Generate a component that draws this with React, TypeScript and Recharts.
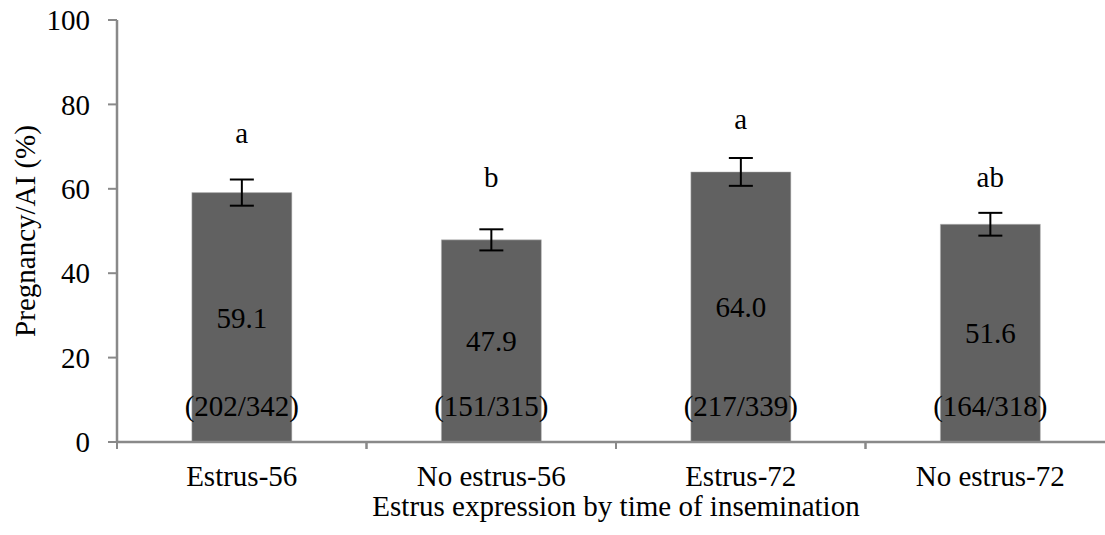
import { Bar, ComposedChart, ErrorBar, LabelList, Scatter, XAxis, YAxis } from "recharts";

const categories = ["Estrus-56", "No estrus-56", "Estrus-72", "No estrus-72"];
const pregnancyRate = [59.1, 47.9, 64.0, 51.6];
const stdError = [3.1, 2.5, 3.3, 2.7];
const counts = ["(202/342)", "(151/315)", "(217/339)", "(164/318)"];
const letters = ["a", "b", "a", "ab"];
const letterAt = [73.3, 62.9, 76.6, 62.9];
const yTicks = [0, 20, 40, 60, 80, 100];

const FONT = "Liberation Serif";
const FS = 29;
const AXIS = "#898989";
const textStyle = { fontFamily: FONT, fontSize: FS, fill: "#000" };

const data = categories.map((name, i) => ({
  name,
  rate: pregnancyRate[i],
  err: stdError[i],
  count: counts[i],
  letter: letters[i],
  letterAt: letterAt[i],
}));

// Excel style: ticks sit on category boundaries, not under the bars
const XTick = (props: any) => {
  const { x, y, payload } = props;
  const half = payload?.offset ?? 124.75;
  return (
    <g>
      <line x1={x - half} x2={x - half} y1={y - 8} y2={y - 1} stroke={AXIS} strokeWidth={2} />
      <line x1={x + half} x2={x + half} y1={y - 8} y2={y - 1} stroke={AXIS} strokeWidth={2} />
      <text x={x} y={y + 36} textAnchor="middle" style={textStyle}>
        {payload.value}
      </text>
    </g>
  );
};

const CountLabel = (props: any) => {
  const { x, y, width, height, value } = props;
  return (
    <text x={x + width / 2} y={y + height - 36} textAnchor="middle" dominantBaseline="central" style={textStyle}>
      {value}
    </text>
  );
};

const LetterShape = (props: any) => {
  const { cx, cy, payload } = props;
  return (
    <text x={cx} y={cy} textAnchor="middle" dominantBaseline="central" style={textStyle}>
      {payload.letter}
    </text>
  );
};

export default function App() {
  return (
    <div style={{ position: "absolute", left: 0, top: 0, width: 1105, height: 535, overflow: "hidden", background: "#fff" }}>
      <ComposedChart
        width={1135}
        height={535}
        data={data}
        margin={{ top: 20, right: 20, bottom: 63, left: 0 }}
        barCategoryGap="30%"
      >
        <XAxis
          dataKey="name"
          axisLine={{ stroke: AXIS, strokeWidth: 2.5 }}
          tickLine={false}
          tick={<XTick />}
          interval={0}
          label={{
            value: "Estrus expression by time of insemination",
            position: "insideBottom",
            offset: -44,
            style: textStyle,
          }}
        />
        <YAxis
          width={117}
          domain={[0, 100]}
          ticks={yTicks}
          interval={0}
          axisLine={{ stroke: AXIS, strokeWidth: 2.5 }}
          tickLine={{ stroke: AXIS, strokeWidth: 2 }}
          tickSize={9}
          tickMargin={18}
          tick={textStyle}
          label={{
            value: "Pregnancy/AI (%)",
            angle: -90,
            position: "center",
            dx: -34,
            style: { ...textStyle, textAnchor: "middle" },
          }}
        />
        <Bar dataKey="rate" fill="#616161" stroke="#bdbdbd" strokeWidth={0.5} isAnimationActive={false}>
          <ErrorBar dataKey="err" width={12} stroke="#000" strokeWidth={2} direction="y" />
          <LabelList
            dataKey="rate"
            position="center"
            formatter={(v: any) => Number(v).toFixed(1)}
            style={textStyle}
          />
          <LabelList dataKey="count" content={<CountLabel />} />
        </Bar>
        <Scatter dataKey="letterAt" shape={<LetterShape />} isAnimationActive={false} />
      </ComposedChart>
    </div>
  );
}
